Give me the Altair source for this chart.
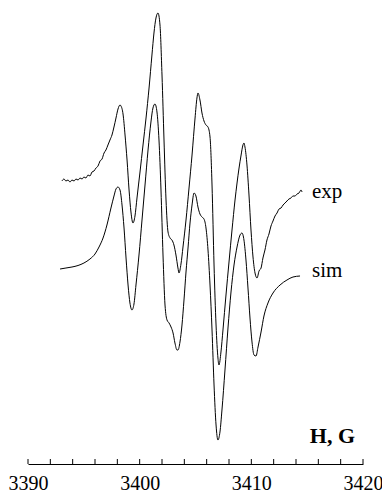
import altair as alt
import pandas as pd

# Magnetic field (G) and signal (arbitrary units)
exp_field = [3393.04, 3393.22, 3393.40, 3393.58, 3393.76, 3393.94, 3394.12, 3394.30, 3394.48, 3394.66,
             3394.84, 3395.01, 3395.19, 3395.37, 3395.55, 3395.73, 3395.91, 3396.09, 3396.27, 3396.45,
             3396.63, 3396.81, 3396.98, 3397.16, 3397.34, 3397.52, 3397.70, 3397.88, 3398.06, 3398.24,
             3398.33, 3398.51, 3398.69, 3398.87, 3399.05, 3399.22, 3399.40, 3399.58, 3399.76, 3400.03,
             3400.30, 3400.57, 3400.84, 3401.10, 3401.28, 3401.46, 3401.64, 3401.82, 3402.00, 3402.18,
             3402.36, 3402.54, 3402.72, 3402.89, 3403.07, 3403.25, 3403.43, 3403.52, 3403.70, 3403.88,
             3404.15, 3404.42, 3404.69, 3404.96, 3405.13, 3405.22, 3405.40, 3405.58, 3405.76, 3405.94,
             3406.12, 3406.30, 3406.48, 3406.66, 3406.84, 3407.01, 3407.10, 3407.28, 3407.46, 3407.73,
             3408.00, 3408.27, 3408.54, 3408.72, 3408.90, 3409.07, 3409.25, 3409.34, 3409.43, 3409.61,
             3409.79, 3409.97, 3410.15, 3410.33, 3410.51, 3410.69, 3410.87, 3411.04, 3411.22, 3411.40,
             3411.58, 3411.76, 3411.94, 3412.12, 3412.30, 3412.48, 3412.66, 3412.84, 3413.02, 3413.19,
             3413.37, 3413.55, 3413.73, 3413.91, 3414.09, 3414.27, 3414.45, 3414.54]
exp_signal = [283, 285, 283, 284, 282, 284, 283, 285, 284, 286,
              285, 287, 286, 289, 288, 292, 293, 296, 298, 303,
              305, 311, 314, 319, 324, 329, 337, 346, 355, 359,
              358, 350, 329, 304, 274, 252, 241, 248, 266, 292,
              319, 346, 376, 409, 431, 446, 451, 439, 389, 324,
              264, 232, 226, 224, 219, 209, 196, 191, 200, 217,
              244, 276, 309, 346, 366, 371, 364, 351, 343, 339,
              337, 327, 279, 199, 139, 106, 99, 112, 134, 169,
              202, 234, 264, 281, 296, 308, 319, 321, 317, 299,
              269, 234, 207, 191, 186, 193, 196, 206, 214, 224,
              230, 238, 243, 248, 251, 255, 256, 259, 261, 263,
              265, 266, 268, 268, 270, 271, 274, 272]

sim_field = [3392.87, 3393.40, 3393.94, 3394.48, 3395.01, 3395.55, 3396.00, 3396.36, 3396.72, 3397.07,
             3397.43, 3397.70, 3397.88, 3398.06, 3398.24, 3398.42, 3398.60, 3398.78, 3398.96, 3399.13,
             3399.31, 3399.49, 3399.67, 3399.94, 3400.21, 3400.48, 3400.75, 3401.01, 3401.19, 3401.37,
             3401.55, 3401.73, 3401.91, 3402.09, 3402.27, 3402.45, 3402.63, 3402.81, 3402.99, 3403.16,
             3403.34, 3403.43, 3403.61, 3403.79, 3403.97, 3404.15, 3404.33, 3404.51, 3404.69, 3404.87,
             3405.04, 3405.22, 3405.40, 3405.58, 3405.76, 3405.94, 3406.12, 3406.30, 3406.48, 3406.66,
             3406.84, 3407.01, 3407.19, 3407.37, 3407.64, 3407.91, 3408.18, 3408.45, 3408.72, 3408.99,
             3409.16, 3409.34, 3409.52, 3409.70, 3409.88, 3410.06, 3410.24, 3410.42, 3410.60, 3410.87,
             3411.13, 3411.49, 3411.94, 3412.57, 3413.19, 3413.73, 3414.36]
sim_signal = [195, 196, 197, 198.5, 201, 205, 210, 217, 226, 239,
              256, 268, 275, 277, 274, 259, 236, 206, 179, 161,
              154, 160, 179, 209, 244, 279, 314, 342, 356, 360,
              352, 324, 274, 209, 159, 144, 141, 137, 131, 121,
              114, 114, 122, 139, 164, 192, 216, 241, 259, 271,
              268, 257, 250, 247, 245, 236, 214, 179, 134, 79,
              39, 24, 32, 54, 94, 136, 172, 199, 217, 229,
              231, 224, 204, 176, 146, 122, 109, 108, 117, 132,
              148, 161, 171, 179, 184, 187, 188]

tick_values = list(range(3390, 3421, 2))
label_values = [3390, 3400, 3410, 3420]

W, H = 335, 456
FONT = "Liberation Serif"

df = pd.concat([
    pd.DataFrame({"G": exp_field, "signal": exp_signal, "series": "exp"}),
    pd.DataFrame({"G": sim_field, "signal": sim_signal, "series": "sim"}),
])

x_scale = alt.Scale(domain=[3390, 3420], nice=False, zero=False)
y_scale = alt.Scale(domain=[0, H], nice=False)

lines = alt.Chart(df).mark_line(color="black", strokeWidth=1, interpolate="monotone").encode(
    x=alt.X("G:Q", scale=x_scale,
            axis=alt.Axis(values=label_values, format="d", ticks=False, grid=False,
                          domainColor="black", domainWidth=1, title=None,
                          labelFont=FONT, labelFontSize=20, labelColor="black",
                          labelPadding=9, labelFlush=False, labelOverlap=False)),
    y=alt.Y("signal:Q", scale=y_scale, axis=None),
    detail="series:N",
)

ticks = alt.Chart(pd.DataFrame({"t": tick_values})).mark_rule(color="black", strokeWidth=1).encode(
    x=alt.X("t:Q", scale=x_scale),
    y=alt.value(H - 5),
    y2=alt.value(H),
)

exp_lbl = alt.Chart(pd.DataFrame({"t": ["exp"]})).mark_text(
    font=FONT, fontSize=21, color="black", align="left", baseline="alphabetic"
).encode(text="t:N", x=alt.value(284), y=alt.value(190))

sim_lbl = alt.Chart(pd.DataFrame({"t": ["sim"]})).mark_text(
    font=FONT, fontSize=21, color="black", align="left", baseline="alphabetic"
).encode(text="t:N", x=alt.value(284), y=alt.value(269))

hg_lbl = alt.Chart(pd.DataFrame({"t": ["H, G"]})).mark_text(
    font=FONT, fontSize=22, fontWeight="bold", color="black", align="right", baseline="alphabetic"
).encode(text="t:N", x=alt.value(327), y=alt.value(435))

chart = alt.layer(lines, ticks, exp_lbl, sim_lbl, hg_lbl).properties(
    width=W, height=H,
    autosize=alt.AutoSizeParams(type="none"),
    padding={"left": 20, "top": 0, "right": 19, "bottom": 32},
).configure_view(stroke=None)

chart.save("out.html", embed_options={"renderer": "svg", "actions": False})
